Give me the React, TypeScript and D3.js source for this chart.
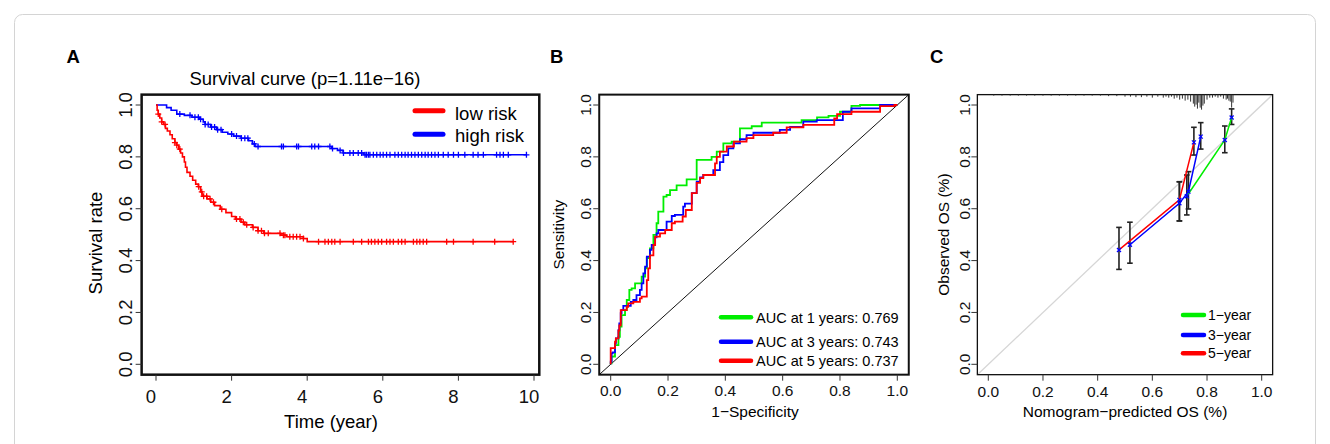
import React from 'react';
import * as d3 from 'd3';

const FONT = "'Liberation Sans', Arial, Helvetica, sans-serif";

// ---------- A: survival curves (time in years, survival probability)
const lowRiskTime = [0, 0.03, 0.06, 0.1, 0.15, 0.2, 0.25, 0.3, 0.37, 0.43, 0.5, 0.55, 0.6, 0.65, 0.7, 0.75, 0.78, 0.82, 0.9, 0.97, 1.05, 1.12, 1.18, 1.22, 1.35, 1.45, 1.55, 1.7, 1.85, 2.0, 2.1, 2.25, 2.35, 2.55, 2.7, 2.85, 3.3, 3.45, 3.9, 4.0, 9.45];
const lowRiskSurv = [1.0, 0.98, 0.965, 0.95, 0.935, 0.925, 0.91, 0.9, 0.885, 0.87, 0.855, 0.845, 0.83, 0.815, 0.8, 0.78, 0.76, 0.74, 0.725, 0.71, 0.695, 0.685, 0.665, 0.648, 0.638, 0.625, 0.612, 0.598, 0.585, 0.57, 0.56, 0.548, 0.538, 0.528, 0.515, 0.505, 0.498, 0.492, 0.485, 0.473, 0.473];
const lowRiskCensor = [0.06, 0.15, 0.24, 0.5, 0.55, 0.63, 1.13, 1.21, 1.26, 1.34, 1.43, 1.52, 1.74, 2.13, 2.22, 2.31, 2.4, 2.57, 2.7, 2.79, 2.87, 2.97, 3.28, 3.37, 3.41, 3.54, 3.63, 3.72, 3.81, 3.9, 4.3, 4.47, 4.56, 4.65, 4.73, 4.87, 5.22, 5.44, 5.62, 5.7, 5.79, 5.88, 5.97, 6.1, 6.19, 6.28, 6.41, 6.5, 6.59, 6.81, 6.9, 6.98, 7.07, 7.16, 7.69, 7.87, 8.39, 8.96, 9.45];

const highRiskTime = [0, 0.28, 0.4, 0.55, 0.75, 0.95, 1.15, 1.25, 1.3, 1.45, 1.6, 1.75, 1.9, 2.05, 2.25, 2.45, 2.55, 2.62, 4.65, 4.8, 4.95, 5.5, 9.8];
const highRiskSurv = [1.0, 0.99, 0.98, 0.965, 0.96, 0.953, 0.945, 0.935, 0.925, 0.915, 0.905, 0.895, 0.888, 0.88, 0.872, 0.862, 0.85, 0.84, 0.832, 0.825, 0.815, 0.808, 0.808];
const highRiskCensor = [0.63, 0.9, 1.03, 1.12, 1.18, 1.3, 1.38, 1.47, 1.55, 1.63, 1.72, 2.0, 2.13, 2.26, 2.35, 2.43, 2.6, 2.7, 3.32, 3.37, 3.72, 3.77, 4.12, 4.2, 4.3, 4.6, 4.67, 4.87, 4.96, 5.13, 5.22, 5.35, 5.44, 5.53, 5.57, 5.62, 5.66, 5.75, 5.84, 5.93, 6.01, 6.1, 6.19, 6.32, 6.41, 6.5, 6.59, 6.67, 6.76, 6.85, 6.94, 7.03, 7.12, 7.2, 7.29, 7.38, 7.47, 7.6, 7.73, 7.87, 8.0, 8.17, 8.39, 8.52, 8.66, 9.01, 9.1, 9.19, 9.32, 9.8];

const survTicksX = [0, 2, 4, 6, 8, 10];
const unitTicks = [0, 0.2, 0.4, 0.6, 0.8, 1.0];
const survLegend = ['low risk', 'high risk'];

// ---------- B: ROC curves [1-specificity, sensitivity]
const roc1 = [[0, 0], [0.003, 0.004], [0.015, 0.03], [0.027, 0.074], [0.032, 0.106], [0.038, 0.145], [0.05, 0.19], [0.056, 0.209], [0.065, 0.248], [0.073, 0.287], [0.085, 0.293], [0.108, 0.312], [0.12, 0.338], [0.126, 0.37], [0.137, 0.41], [0.149, 0.447], [0.16, 0.499], [0.166, 0.544], [0.184, 0.589], [0.195, 0.647], [0.207, 0.653], [0.23, 0.672], [0.265, 0.69], [0.3, 0.713], [0.352, 0.788], [0.37, 0.8], [0.393, 0.82], [0.422, 0.852], [0.451, 0.859], [0.492, 0.91], [0.527, 0.918], [0.666, 0.932], [0.72, 0.942], [0.76, 0.952], [0.8, 0.958], [0.84, 0.974], [0.87, 0.997], [1, 1]];
const roc3 = [[0, 0], [0.003, 0.01], [0.007, 0.042], [0.015, 0.046], [0.018, 0.081], [0.027, 0.1], [0.03, 0.132], [0.035, 0.158], [0.038, 0.197], [0.044, 0.209], [0.07, 0.225], [0.079, 0.241], [0.09, 0.248], [0.102, 0.267], [0.108, 0.287], [0.114, 0.312], [0.12, 0.351], [0.126, 0.377], [0.137, 0.415], [0.143, 0.441], [0.155, 0.46], [0.16, 0.49], [0.166, 0.505], [0.195, 0.518], [0.213, 0.55], [0.224, 0.572], [0.253, 0.576], [0.259, 0.608], [0.283, 0.62], [0.3, 0.66], [0.312, 0.704], [0.323, 0.721], [0.358, 0.73], [0.381, 0.749], [0.393, 0.78], [0.41, 0.807], [0.428, 0.833], [0.451, 0.852], [0.474, 0.868], [0.498, 0.884], [0.59, 0.893], [0.626, 0.904], [0.672, 0.916], [0.719, 0.936], [0.81, 0.942], [0.84, 0.974], [0.94, 0.987], [0.99, 1], [1, 1]];
const roc5 = [[0, 0], [0, 0.062], [0.015, 0.062], [0.018, 0.087], [0.027, 0.1], [0.03, 0.13], [0.035, 0.15], [0.039, 0.209], [0.056, 0.209], [0.061, 0.222], [0.079, 0.235], [0.102, 0.241], [0.108, 0.254], [0.126, 0.261], [0.131, 0.325], [0.137, 0.37], [0.149, 0.42], [0.155, 0.46], [0.172, 0.492], [0.19, 0.505], [0.213, 0.518], [0.224, 0.544], [0.251, 0.55], [0.262, 0.57], [0.283, 0.595], [0.3, 0.66], [0.312, 0.7], [0.323, 0.718], [0.364, 0.73], [0.37, 0.775], [0.381, 0.8], [0.405, 0.82], [0.43, 0.84], [0.474, 0.859], [0.498, 0.872], [0.567, 0.884], [0.614, 0.893], [0.672, 0.914], [0.78, 0.923], [0.79, 0.948], [0.84, 0.965], [0.94, 0.974], [0.99, 0.996], [1, 1]];
const aucLabels = ['AUC at 1 years: 0.769', 'AUC at 3 years: 0.743', 'AUC at 5 years: 0.737'];

// ---------- C: calibration [predicted, observed, lower, upper]
const cal1 = [[0.726, 0.648, 0.576, 0.73], [0.865, 0.865, 0.816, 0.919], [0.89, 0.952, 0.925, 0.985]];
const cal3 = [[0.518, 0.461, 0.39, 0.548], [0.699, 0.621, 0.553, 0.704], [0.732, 0.666, 0.599, 0.743], [0.777, 0.878, 0.83, 0.932]];
const cal5 = [[0.478, 0.441, 0.366, 0.528], [0.699, 0.634, 0.553, 0.704], [0.752, 0.856, 0.807, 0.914]];
const calLegend = ['1\u2212year', '3\u2212year', '5\u2212year'];
// distribution of predicted values (rug spikes at top)
const riskBins = [0.02, 0.05, 0.08, 0.11, 0.14, 0.17, 0.2, 0.23, 0.26, 0.29, 0.32, 0.35, 0.38, 0.41, 0.44, 0.47, 0.5, 0.52, 0.54, 0.56, 0.58, 0.6, 0.62, 0.64, 0.65, 0.66, 0.67, 0.68, 0.69, 0.7, 0.71, 0.72, 0.73, 0.74, 0.75, 0.755, 0.76, 0.765, 0.77, 0.775, 0.78, 0.785, 0.79, 0.8, 0.81, 0.82, 0.83, 0.84, 0.85, 0.86, 0.87, 0.875, 0.88, 0.885, 0.89, 0.895];
const riskCounts = [1, 1, 1, 1, 1, 1, 1, 1, 1, 1, 1, 1, 1, 1, 1.5, 1.5, 2, 2, 2.5, 2.5, 2, 3, 2, 3, 2, 3, 2, 4, 3, 5, 4, 6, 5, 7, 9, 12, 10, 14, 8, 13, 15, 11, 9, 5, 3, 3, 2, 3, 2, 4, 5, 4, 6, 7, 13, 8];

const RED = '#ff0000';
const BLUE = '#0000ff';
const GREEN = '#00ee00';

type Scale = d3.ScaleLinear<number, number>;

function Frame({ x, y, xPad, yPad, sw, xTicks, yTicks, fmtX, fmtY, fs, xBase, yBase, xDx = 0 }: {
  x: Scale; y: Scale; xPad: [number, number]; yPad: [number, number]; sw: number;
  xTicks: number[]; yTicks: number[]; fmtX: (v: number) => string; fmtY: (v: number) => string;
  fs: number; xBase: number; yBase: number; xDx?: number;
}) {
  const x0 = x(xPad[0]), x1 = x(xPad[1]);
  const y0 = y(yPad[1]), y1 = y(yPad[0]);
  return (
    <g fontFamily={FONT} fontSize={fs} fill="#111">
      <rect x={x0} y={y0} width={x1 - x0} height={y1 - y0} fill="none" stroke="#111" strokeWidth={sw} />
      {xTicks.map((t) => (
        <g key={'x' + t}>
          <line x1={x(t)} x2={x(t)} y1={y1} y2={y1 + 6} stroke="#333" strokeWidth={1} />
          <text x={x(t) + xDx} y={xBase} textAnchor="middle">{fmtX(t)}</text>
        </g>
      ))}
      {yTicks.map((t) => (
        <g key={'y' + t}>
          <line x1={x0} x2={x0 - 6} y1={y(t)} y2={y(t)} stroke="#333" strokeWidth={1} />
          <text transform={`translate(${yBase},${y(t)}) rotate(-90)`} textAnchor="middle">{fmtY(t)}</text>
        </g>
      ))}
    </g>
  );
}

const f1 = d3.format('.1f');
const f0 = d3.format('d');

function survAt(times: number[], surv: number[], t: number) {
  const i = d3.bisectRight(times, t) - 1;
  return surv[Math.max(0, Math.min(i, surv.length - 1))];
}

export default function App() {
  // Panel A scales
  const ax = d3.scaleLinear().domain([0, 10]).range([156, 534]);
  const ay = d3.scaleLinear().domain([0, 1]).range([364.3, 105]);
  const stepLine = d3.line<number>().curve(d3.curveStepAfter);
  const survPath = (times: number[], surv: number[]) =>
    d3.line<number>().x((t) => ax(t)).y((_, i) => ay(surv[i])).curve(d3.curveStepAfter)(times) || '';
  void stepLine;
  const censorPath = (times: number[], surv: number[], cens: number[]) =>
    cens.map((t) => {
      const px = ax(t), py = ay(survAt(times, surv, t));
      return `M${px - 3},${py}h6M${px},${py - 3}v6`;
    }).join('');

  // Panel B scales
  const bx = d3.scaleLinear().domain([0, 1]).range([610.7, 897.3]);
  const by = d3.scaleLinear().domain([0, 1]).range([364.3, 105]);
  const rocLine = d3.line<number[]>().x((d) => bx(d[0])).y((d) => by(d[1])).curve(d3.curveStepBefore);

  // Panel C scales
  const cx = d3.scaleLinear().domain([0, 1]).range([988.3, 1261.7]);
  const cy = d3.scaleLinear().domain([0, 1]).range([364.3, 105]);
  const calLine = d3.line<number[]>().x((d) => cx(d[0])).y((d) => cy(d[1]));
  const cTop = cy(1.04);

  const rocSeries = [
    { d: roc1, c: GREEN },
    { d: roc3, c: BLUE },
    { d: roc5, c: RED },
  ];
  const calSeries = [
    { d: cal1, c: GREEN },
    { d: cal3, c: BLUE },
    { d: cal5, c: RED },
  ];
  const bLegendY = [317.3, 341.7, 360.7];
  const cLegendY = [315, 335, 353.3];

  return (
    <div style={{ position: 'absolute', left: 0, top: 0 }}>
      <svg width={1330} height={444} style={{ display: 'block', background: '#fff' }}>
        <rect x={14.5} y={14.5} width={1301} height={460} rx={8} fill="none" stroke="#d4d4d4" strokeWidth={1} />

        {/* ---------- Panel A ---------- */}
        <text x={66.5} y={63.3} fontFamily={FONT} fontWeight="bold" fontSize={18.5}>A</text>
        <text x={305} y={85} fontFamily={FONT} fontSize={18.5} textAnchor="middle">Survival curve (p=1.11e{'\u2212'}16)</text>
        <Frame x={ax} y={ay} xPad={[-0.38, 10.14]} yPad={[-0.04, 1.04]} sw={2.5}
          xTicks={survTicksX} yTicks={unitTicks} fmtX={f0} fmtY={f1} fs={18.5} xBase={402.7} yBase={132} xDx={-5} />
        <text x={331} y={428.3} fontFamily={FONT} fontSize={18.5} textAnchor="middle">Time (year)</text>
        <text transform="translate(101.5,243) rotate(-90)" fontFamily={FONT} fontSize={18.5} textAnchor="middle">Survival rate</text>
        <path d={survPath(highRiskTime, highRiskSurv)} fill="none" stroke={BLUE} strokeWidth={1.6} />
        <path d={censorPath(highRiskTime, highRiskSurv, highRiskCensor)} fill="none" stroke={BLUE} strokeWidth={1.3} />
        <path d={survPath(lowRiskTime, lowRiskSurv)} fill="none" stroke={RED} strokeWidth={1.6} />
        <path d={censorPath(lowRiskTime, lowRiskSurv, lowRiskCensor)} fill="none" stroke={RED} strokeWidth={1.3} />
        {survLegend.map((s, i) => (
          <g key={s}>
            <line x1={415} x2={443} y1={110.7 + i * 23.6} y2={110.7 + i * 23.6} stroke={i === 0 ? RED : BLUE} strokeWidth={5} strokeLinecap="round" />
            <text x={455} y={119.8 + i * 22} fontFamily={FONT} fontSize={18.5}>{s}</text>
          </g>
        ))}

        {/* ---------- Panel B ---------- */}
        <text x={550} y={63.3} fontFamily={FONT} fontWeight="bold" fontSize={18.5}>B</text>
        <Frame x={bx} y={by} xPad={[-0.04, 1.04]} yPad={[-0.04, 1.04]} sw={2}
          xTicks={unitTicks} yTicks={unitTicks} fmtX={f1} fmtY={f1} fs={15.5} xBase={396} yBase={591} />
        <line x1={bx(-0.04)} y1={by(-0.04)} x2={bx(1.04)} y2={by(1.04)} stroke="#111" strokeWidth={1} />
        {rocSeries.map((s) => (
          <path key={s.c} d={rocLine(s.d) || ''} fill="none" stroke={s.c} strokeWidth={1.8} />
        ))}
        <text x={755} y={416.7} fontFamily={FONT} fontSize={15.5} textAnchor="middle">1{'\u2212'}Specificity</text>
        <text transform="translate(564,234.6) rotate(-90)" fontFamily={FONT} fontSize={15.5} textAnchor="middle">Sensitivity</text>
        {aucLabels.map((s, i) => (
          <g key={s}>
            <line x1={721} x2={751} y1={bLegendY[i]} y2={bLegendY[i]} stroke={rocSeries[i].c} strokeWidth={4.5} strokeLinecap="round" />
            <text x={756} y={bLegendY[i] + 5.2} fontFamily={FONT} fontSize={14.5}>{s}</text>
          </g>
        ))}

        {/* ---------- Panel C ---------- */}
        <text x={930} y={63.3} fontFamily={FONT} fontWeight="bold" fontSize={18.5}>C</text>
        <line x1={cx(-0.04)} y1={cy(-0.04)} x2={cx(1.04)} y2={cy(1.04)} stroke="#d6d6d6" strokeWidth={1.3} />
        <Frame x={cx} y={cy} xPad={[-0.04, 1.04]} yPad={[-0.04, 1.04]} sw={1.3}
          xTicks={unitTicks} yTicks={unitTicks} fmtX={f1} fmtY={f1} fs={15.5} xBase={396.7} yBase={970} />
        {riskBins.map((b, i) => (
          <line key={'r' + i} x1={cx(b)} x2={cx(b)} y1={cTop} y2={cTop + riskCounts[i]} stroke="#333" strokeWidth={1} />
        ))}
        {calSeries.map((s) => (
          <g key={'eb' + s.c}>
            {s.d.map((p, i) => (
              <g key={i} stroke="#222" strokeWidth={1.6}>
                <line x1={cx(p[0])} x2={cx(p[0])} y1={cy(p[2])} y2={cy(p[3])} />
                <line x1={cx(p[0]) - 2.8} x2={cx(p[0]) + 2.8} y1={cy(p[2])} y2={cy(p[2])} />
                <line x1={cx(p[0]) - 2.8} x2={cx(p[0]) + 2.8} y1={cy(p[3])} y2={cy(p[3])} />
              </g>
            ))}
          </g>
        ))}
        {calSeries.map((s) => (
          <path key={'cl' + s.c} d={calLine(s.d) || ''} fill="none" stroke={s.c} strokeWidth={1.5} />
        ))}
        {calSeries.map((s) => s.d.map((p, i) => (
          <path key={'m' + s.c + i}
            d={`M${cx(p[0]) - 2},${cy(p[1]) - 2}l4,4M${cx(p[0]) - 2},${cy(p[1]) + 2}l4,-4`}
            stroke={BLUE} strokeWidth={1.3} fill="none" />
        )))}
        <text x={1125} y={416.7} fontFamily={FONT} fontSize={15.5} textAnchor="middle">Nomogram{'\u2212'}predicted OS (%)</text>
        <text transform="translate(948.5,234.6) rotate(-90)" fontFamily={FONT} fontSize={15.5} textAnchor="middle">Observed OS (%)</text>
        {calLegend.map((s, i) => (
          <g key={s}>
            <line x1={1183} x2={1204} y1={cLegendY[i]} y2={cLegendY[i]} stroke={calSeries[i].c} strokeWidth={4.5} strokeLinecap="round" />
            <text x={1208} y={cLegendY[i] + 5} fontFamily={FONT} fontSize={14}>{s}</text>
          </g>
        ))}
      </svg>
    </div>
  );
}
